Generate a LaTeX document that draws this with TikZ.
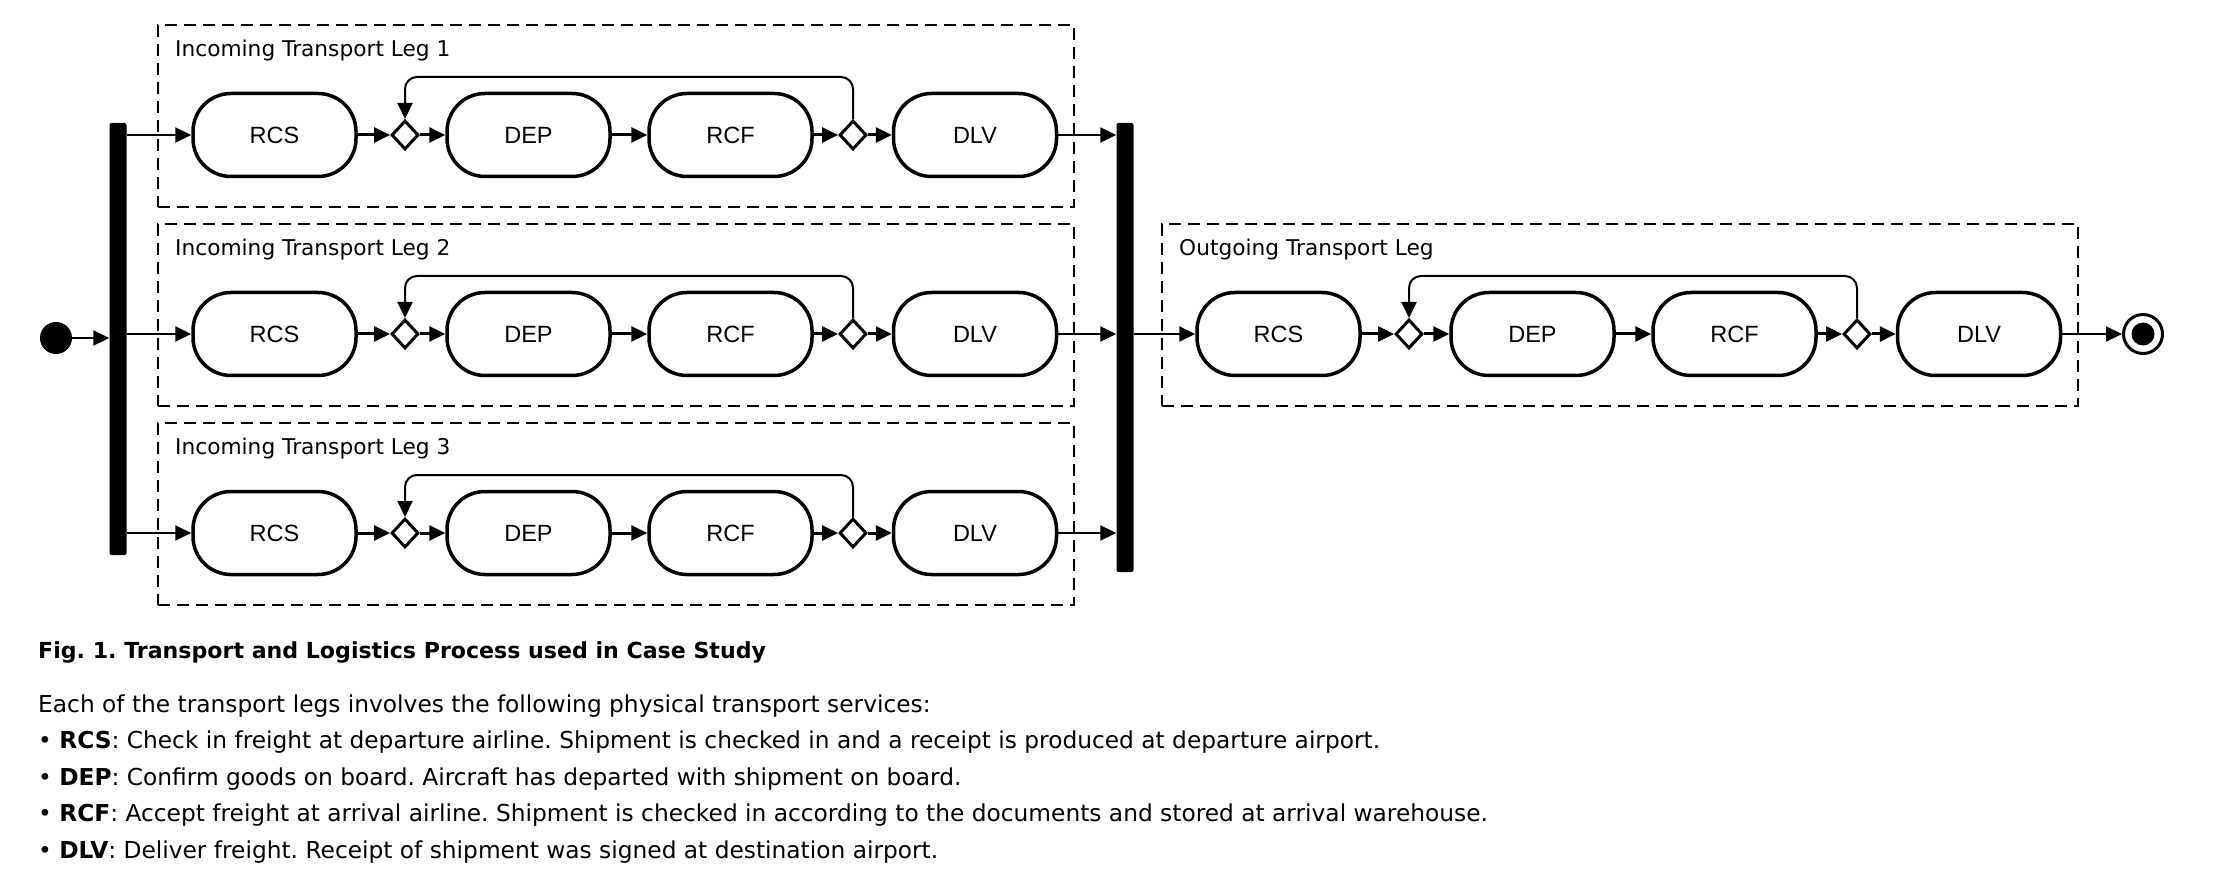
\documentclass[tikz,border=0pt]{standalone}
\usepackage{fontspec}
\setmainfont{DejaVu Sans}
\newfontfamily\nodefont{Liberation Sans}
\usetikzlibrary{shapes.geometric,arrows.meta}
\frenchspacing
\begin{document}
\begin{tikzpicture}[x=1pt,y=-1pt,
  act/.style={draw,line width=3.5pt,rounded corners=38pt,minimum width=163pt,minimum height=83pt,inner sep=0pt,font=\nodefont\fontsize{23.5}{23.5}\selectfont},
  dec/.style={draw,diamond,line width=3pt,minimum width=27pt,minimum height=29pt,inner sep=0pt,aspect=1},
  lane/.style={draw,line width=2.5pt,dash pattern=on 12pt off 7pt},
  flow/.style={line width=3pt,-{Triangle[length=16pt,width=15pt]}},
  conn/.style={line width=2pt,-{Triangle[length=16pt,width=15pt]}},
  bar/.style={fill=black,rounded corners=2pt,inner sep=0pt,minimum width=17pt},
  lbl/.style={anchor=west,inner sep=0pt,font=\fontsize{21.7}{21.7}\selectfont},
  txt/.style={anchor=west,inner sep=0pt,font=\fontsize{23.3}{23.3}\selectfont}
]
\useasboundingbox (0,0) rectangle (2230,882);
\fill[white] (0,0) rectangle (2230,882);

\foreach \i/\ox/\oy/\name in {1/0/0/Incoming Transport Leg 1,2/0/199/Incoming Transport Leg 2,3/0/398/Incoming Transport Leg 3,4/1004/199/Outgoing Transport Leg}{
  \node[lane,minimum width=916pt,minimum height=182pt,inner sep=0pt] (box\i) at ({616+\ox},{116+\oy}) {};
  \node[lbl] (lab\i) at ({175+\ox},{51+\oy}) {\name};
  \node[act] (rcs\i) at ({274.5+\ox},{135+\oy}) {RCS};
  \node[dec] (da\i) at ({405+\ox},{135+\oy}) {};
  \node[act] (dep\i) at ({528.5+\ox},{135+\oy}) {DEP};
  \node[act] (rcf\i) at ({730.5+\ox},{135+\oy}) {RCF};
  \node[dec] (db\i) at ({853+\ox},{135+\oy}) {};
  \node[act] (dlv\i) at ({975+\ox},{135+\oy}) {DLV};
  \coordinate (lt\i) at ({405+\ox},{77+\oy});
  \draw[flow] (rcs\i.east) -- (da\i.west);
  \draw[flow] (da\i.east) -- (dep\i.west);
  \draw[flow] (dep\i.east) -- (rcf\i.west);
  \draw[flow] (rcf\i.east) -- (db\i.west);
  \draw[flow] (db\i.east) -- (dlv\i.west);
  \draw[conn,rounded corners=12pt] (db\i.north) |- (lt\i) -- (da\i.north);
}

\node[circle,fill=black,minimum size=32pt,inner sep=0pt] (start) at (56,338) {};
\node[bar,minimum height=432pt] (fork) at (118,339) {};
\node[bar,minimum height=449pt] (join) at (1125,347.5) {};
\node[circle,draw,line width=3pt,minimum size=39pt,inner sep=0pt] (end) at (2143,334) {};
\node[circle,fill=black,minimum size=23pt,inner sep=0pt] (endin) at (2143,334) {};

\draw[conn] (start.east) -- (fork.west |- start.east);
\foreach \i in {1,2,3}{
  \draw[conn] (fork.east |- rcs\i.west) -- (rcs\i.west);
  \draw[conn] (dlv\i.east) -- (join.west |- dlv\i.east);
}
\draw[conn] (join.east |- rcs4.west) -- (rcs4.west);
\draw[conn] (dlv4.east) -- (end.west);

\node[txt,font=\bfseries\fontsize{22.1}{22.1}\selectfont] (cap) at (38,652) {Fig. 1. Transport and Logistics Process used in Case Study};
\node[txt] (t0) at (38,706) {Each of the transport legs involves the following physical transport services:};
\node[txt] (t1) at (38,742.5) {• \textbf{RCS}: Check in freight at departure airline. Shipment is checked in and a receipt is produced at departure airport.};
\node[txt] (t2) at (38,779) {• \textbf{DEP}: Confirm goods on board. Aircraft has departed with shipment on board.};
\node[txt] (t3) at (38,815.5) {• \textbf{RCF}: Accept freight at arrival airline. Shipment is checked in according to the documents and stored at arrival warehouse.};
\node[txt] (t4) at (38,852) {• \textbf{DLV}: Deliver freight. Receipt of shipment was signed at destination airport.};
\end{tikzpicture}
\end{document}
